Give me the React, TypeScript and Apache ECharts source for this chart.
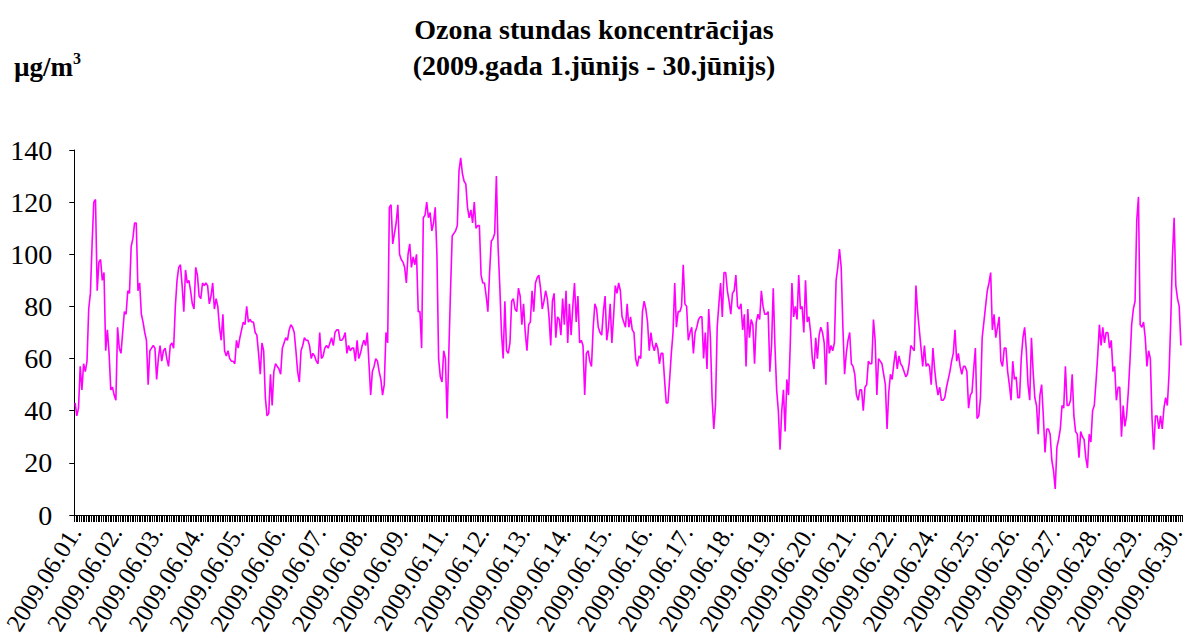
import React, { useEffect, useRef } from "react";
import * as echarts from "echarts";

const titleLine1 = "Ozona stundas koncentrācijas";
const titleLine2 = "(2009.gada 1.jūnijs - 30.jūnijs)";
const unitLabel = "µg/m";

const dayLabels = [
  "2009.06.01.", "2009.06.02.", "2009.06.03.", "2009.06.04.", "2009.06.05.",
  "2009.06.06.", "2009.06.07.", "2009.06.08.", "2009.06.09.", "2009.06.11.",
  "2009.06.12.", "2009.06.13.", "2009.06.14.", "2009.06.15.", "2009.06.16.",
  "2009.06.17.", "2009.06.18.", "2009.06.19.", "2009.06.20.", "2009.06.21.",
  "2009.06.22.", "2009.06.24.", "2009.06.25.", "2009.06.26.", "2009.06.27.",
  "2009.06.28.", "2009.06.29.", "2009.06.30.",
];
const hoursPerLabel = 24;

const yTicks = [0, 20, 40, 60, 80, 100, 120, 140];

// hourly ozone concentrations, µg/m3
const ozone = [
  43, 38, 41, 57, 48, 58, 55, 59, 79, 85, 104, 120, 121, 86, 97, 98, 90, 93, 63, 71, 62, 48, 49, 46,
  44, 72, 64, 62, 70, 78, 77, 86, 85, 103, 106, 112, 112, 86, 89, 77, 74, 70, 67, 50, 63, 64, 65, 64,
  52, 60, 65, 59, 63, 64, 60, 57, 65, 66, 64, 80, 90, 95, 96, 88, 78, 94, 89, 90, 86, 81, 79, 95,
  92, 84, 83, 89, 88, 89, 88, 81, 84, 89, 79, 83, 80, 72, 67, 77, 63, 61, 63, 60, 59, 59, 58, 67,
  64, 68, 71, 74, 73, 80, 74, 75, 74, 74, 70, 69, 62, 54, 66, 63, 45, 38, 39, 54, 42, 55, 58, 57,
  56, 54, 64, 66, 68, 67, 71, 73, 72, 70, 63, 55, 51, 63, 65, 68, 67, 67, 65, 60, 62, 61, 59, 58,
  70, 60, 61, 64, 65, 64, 66, 68, 65, 70, 71, 71, 67, 67, 68, 70, 62, 65, 63, 64, 64, 59, 67, 60,
  62, 65, 67, 65, 70, 58, 46, 55, 57, 60, 59, 55, 52, 46, 50, 70, 66, 118, 119, 104, 108, 112, 119, 100,
  98, 97, 95, 89, 100, 104, 95, 99, 96, 100, 78, 78, 64, 114, 115, 120, 114, 116, 109, 112, 118, 100,
  60, 53, 51, 63, 60, 37, 62, 86, 107, 108, 109, 111, 132, 137, 131, 128, 127, 118, 114, 117, 112, 120,
  110, 111, 111, 92, 89, 89, 84, 78, 93, 105, 106, 108, 130, 103, 88, 70, 60, 82, 63, 62, 66, 82,
  83, 79, 78, 87, 84, 73, 81, 70, 63, 73, 74, 86, 78, 89, 91, 92, 87, 79, 82, 86, 83, 76,
  65, 82, 85, 68, 76, 75, 69, 83, 73, 86, 66, 81, 69, 80, 89, 74, 84, 66, 67, 65, 46, 62,
  63, 59, 57, 72, 81, 79, 72, 70, 69, 78, 84, 67, 72, 81, 66, 76, 88, 85, 89, 86, 76, 74,
  72, 81, 72, 76, 71, 70, 60, 57, 61, 60, 78, 82, 79, 74, 63, 70, 65, 63, 66, 64, 58, 62,
  62, 52, 43, 43, 52, 62, 70, 89, 72, 78, 78, 80, 96, 81, 80, 67, 70, 72, 62, 70, 72, 75,
  76, 76, 60, 70, 56, 79, 68, 45, 33, 42, 72, 81, 89, 76, 93, 93, 86, 82, 77, 85, 86, 92,
  80, 79, 81, 71, 77, 57, 79, 68, 75, 73, 58, 74, 77, 75, 86, 80, 77, 77, 78, 55, 65, 87,
  65, 48, 40, 25, 40, 48, 32, 52, 46, 65, 89, 76, 80, 75, 92, 79, 80, 70, 90, 74, 76, 70,
  60, 56, 68, 60, 69, 72, 70, 66, 50, 74, 62, 65, 63, 66, 90, 95, 102, 95, 72, 54, 62, 67,
  70, 58, 57, 54, 46, 44, 48, 48, 40, 49, 50, 59, 58, 58, 75, 67, 46, 60, 59, 58, 54, 50,
  33, 47, 54, 52, 58, 63, 56, 61, 58, 57, 55, 53, 54, 58, 65, 64, 63, 88, 78, 71, 64, 57,
  65, 57, 58, 57, 50, 64, 56, 50, 46, 49, 44, 44, 45, 49, 52, 55, 59, 62, 71, 59, 62, 57,
  54, 57, 57, 55, 41, 46, 47, 56, 64, 37, 38, 45, 68, 74, 80, 86, 89, 93, 71, 77, 68, 72,
  76, 59, 57, 64, 64, 55, 50, 44, 59, 52, 53, 45, 45, 60, 68, 72, 63, 50, 44, 68, 55, 45,
  42, 31, 46, 50, 38, 24, 33, 33, 31, 21, 17, 10, 26, 29, 33, 42, 41, 57, 42, 42, 44, 54,
  38, 32, 31, 22, 32, 30, 29, 22, 18, 31, 28, 40, 42, 51, 61, 73, 65, 72, 66, 70, 70, 64,
  67, 55, 57, 44, 49, 49, 30, 42, 34, 38, 47, 59, 73, 79, 82, 113, 122, 73, 72, 74, 68, 57,
  63, 60, 37, 25, 38, 38, 33, 38, 33, 41, 45, 42, 54, 74, 99, 114, 88, 83, 80, 65,
];

const categories = ozone.map((_, i) => "h" + i);

const serif = "'Liberation Serif', 'Times New Roman', serif";

export default function App() {
  const ref = useRef<HTMLDivElement>(null);

  useEffect(() => {
    if (!ref.current) return;
    const chart = echarts.init(ref.current, null, { renderer: "svg" });
    chart.setOption({
      animation: false,
      backgroundColor: "#ffffff",
      textStyle: { fontFamily: serif },
      grid: { left: 73, right: 0, top: 150, bottom: 129, containLabel: false },
      graphic: [
        {
          type: "text",
          left: "center",
          top: 11,
          style: {
            text: titleLine1 + "\n" + titleLine2,
            font: "bold 28px " + serif,
            fill: "#000",
            textAlign: "center",
            lineHeight: 36,
          },
        },
        {
          type: "text",
          left: 14,
          top: 50,
          style: {
            text: "{a|" + unitLabel + "}{s|3}",
            rich: {
              a: { font: "bold 27px " + serif, fill: "#000", verticalAlign: "bottom" },
              s: { font: "bold 16px " + serif, fill: "#000", verticalAlign: "top", padding: [0, 0, 14, 0] },
            },
          },
        },
      ],
      xAxis: {
        type: "category",
        data: categories,
        boundaryGap: true,
        axisLine: { show: true, lineStyle: { color: "#000", width: 1 } },
        axisTick: { show: true, interval: 0, length: 7, lineStyle: { color: "#000", width: 1 } },
        axisLabel: {
          interval: (idx: number) => idx % hoursPerLabel === 0,
          formatter: (_v: string, idx: number) => dayLabels[Math.floor(idx / hoursPerLabel)] ?? "",
          rotate: 58,
          margin: 13,
          fontFamily: serif,
          fontSize: 25,
          color: "#000",
        },
        splitLine: { show: false },
      },
      yAxis: {
        type: "value",
        min: yTicks[0],
        max: yTicks[yTicks.length - 1],
        interval: 20,
        axisLine: { show: true, lineStyle: { color: "#000", width: 1 } },
        axisTick: { show: true, length: 5, lineStyle: { color: "#000" } },
        axisLabel: { fontFamily: serif, fontSize: 28, color: "#000", margin: 22 },
        splitLine: { show: false },
      },
      series: [
        {
          type: "line",
          data: ozone,
          symbol: "none",
          lineStyle: { color: "#FF00FF", width: 1.6 },
          itemStyle: { color: "#FF00FF" },
        },
      ],
    });
    return () => chart.dispose();
  }, []);

  return (
    <div
      ref={ref}
      style={{ position: "fixed", left: 0, top: 0, width: 1188, height: 644, background: "#fff" }}
    />
  );
}
